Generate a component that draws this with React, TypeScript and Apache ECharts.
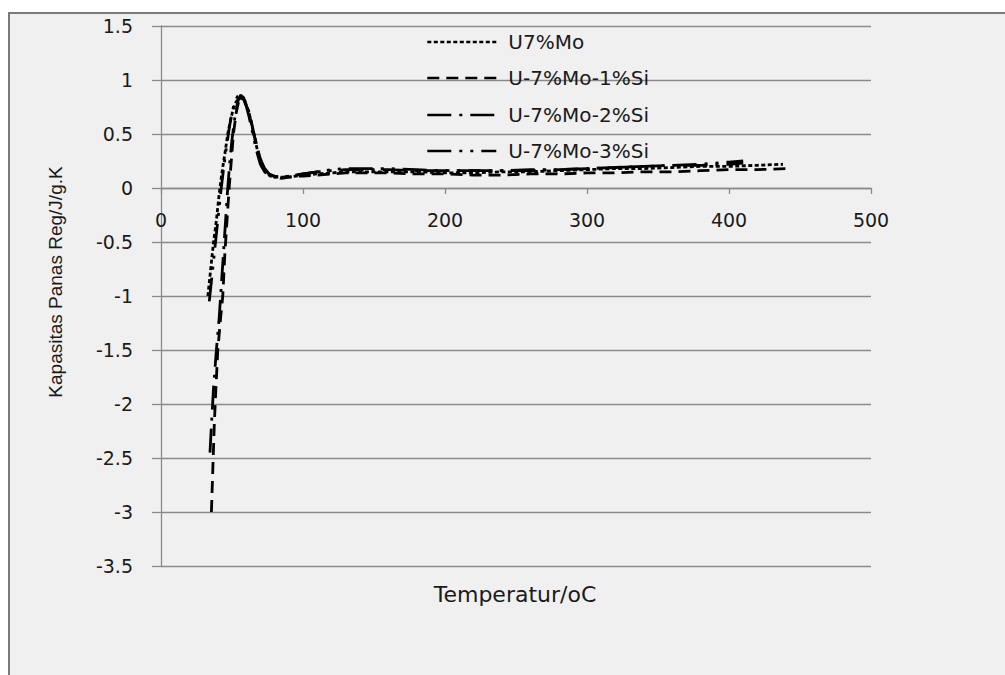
import React, { useEffect, useRef } from "react";
import * as echarts from "echarts";

// ---- data ----
const seriesNames = ["U7%Mo", "U-7%Mo-1%Si", "U-7%Mo-2%Si", "U-7%Mo-3%Si"];

const tempMo = [33, 35, 37, 39, 41, 43, 45, 47, 49, 51, 53, 55, 57, 59, 61, 63, 65, 67, 69, 71, 74, 77, 81, 85, 90, 95, 100, 110, 120, 130, 140, 150, 160, 180, 200, 220, 240, 260, 280, 300, 320, 340, 360, 380, 400, 420, 438];
const cpMo = [-1.0, -0.75, -0.5, -0.3, -0.05, 0.15, 0.32, 0.5, 0.63, 0.74, 0.8, 0.83, 0.83, 0.8, 0.74, 0.64, 0.52, 0.4, 0.29, 0.2, 0.14, 0.11, 0.1, 0.1, 0.1, 0.11, 0.12, 0.13, 0.14, 0.15, 0.15, 0.15, 0.15, 0.15, 0.14, 0.14, 0.15, 0.15, 0.16, 0.17, 0.18, 0.18, 0.19, 0.2, 0.2, 0.21, 0.22];

const tempSi1 = [35.5, 36.5, 37.5, 38.5, 40, 42, 43.5, 45, 46.5, 48, 49.5, 51, 53, 55, 56.5, 58, 60, 62, 64, 66, 68, 70, 73, 76, 80, 85, 90, 95, 100, 110, 120, 130, 140, 150, 160, 180, 200, 220, 240, 260, 280, 300, 320, 340, 360, 380, 400, 420, 440];
const cpSi1 = [-3.0, -2.6, -2.2, -1.9, -1.5, -1.2, -1.0, -0.6, -0.3, 0.0, 0.25, 0.5, 0.7, 0.82, 0.85, 0.83, 0.77, 0.69, 0.58, 0.47, 0.36, 0.27, 0.18, 0.13, 0.1, 0.09, 0.1, 0.11, 0.11, 0.12, 0.13, 0.14, 0.14, 0.14, 0.14, 0.13, 0.13, 0.12, 0.12, 0.13, 0.13, 0.14, 0.14, 0.15, 0.15, 0.16, 0.17, 0.17, 0.18];

const tempSi2 = [34.5, 35.5, 37, 39, 41, 42.5, 44, 45.5, 47, 48.5, 50, 52, 54, 56, 58, 60, 62, 64, 66, 68, 70, 73, 76, 80, 85, 90, 95, 100, 110, 120, 130, 140, 150, 160, 180, 200, 220, 240, 260, 280, 300, 320, 340, 360, 380, 400, 410];
const cpSi2 = [-2.45, -2.2, -1.85, -1.5, -1.2, -0.9, -0.6, -0.3, 0.0, 0.25, 0.45, 0.65, 0.8, 0.86, 0.84, 0.78, 0.7, 0.59, 0.47, 0.36, 0.27, 0.18, 0.13, 0.11, 0.1, 0.11, 0.12, 0.13, 0.15, 0.16, 0.17, 0.17, 0.17, 0.17, 0.16, 0.16, 0.16, 0.16, 0.16, 0.17, 0.18, 0.19, 0.2, 0.21, 0.21, 0.22, 0.23];

const tempSi3 = [34, 36, 38, 40, 42, 44, 46, 48, 50, 52, 54, 56, 58, 60, 62, 64, 66, 68, 70, 73, 76, 80, 85, 90, 95, 100, 110, 120, 130, 140, 150, 160, 180, 200, 220, 240, 260, 280, 300, 320, 340, 360, 380, 400, 410];
const cpSi3 = [-1.05, -0.8, -0.55, -0.3, -0.05, 0.17, 0.37, 0.55, 0.7, 0.8, 0.85, 0.86, 0.83, 0.76, 0.66, 0.54, 0.42, 0.31, 0.22, 0.15, 0.12, 0.1, 0.1, 0.11, 0.12, 0.13, 0.15, 0.17, 0.18, 0.18, 0.18, 0.18, 0.17, 0.16, 0.16, 0.16, 0.17, 0.17, 0.18, 0.19, 0.2, 0.21, 0.22, 0.24, 0.25];

const xTitle = "Temperatur/oC";
const yTitle = "Kapasitas Panas Reg/J/g.K";

const temps = [tempMo, tempSi1, tempSi2, tempSi3];
const cps = [cpMo, cpSi1, cpSi2, cpSi3];
const dashes: number[][] = [
  [4, 2.5],
  [12, 7],
  [24, 8, 3, 8],
  [24, 8, 3, 8, 3, 8],
];
const legendTops = [27, 63, 100, 136];

const AX = "#8a8a8a";
const TXT = "#1a1a1a";
const FONT = "DejaVu Sans";

// x axis sits at y = 0: grid bottom is at -3.5, so shift it up by 3.5 units (108 px per unit)
const X_AXIS_OFFSET = -378;

export default function App() {
  const ref = useRef<HTMLDivElement>(null);

  useEffect(() => {
    if (!ref.current) return;
    const chart = echarts.init(ref.current, undefined, { renderer: "svg" });

    const series = seriesNames.map((name, i) => ({
      name,
      type: "line",
      data: temps[i].map((t, j) => [t, cps[i][j]]),
      symbol: "none",
      showSymbol: false,
      smooth: false,
      lineStyle: { color: "#000", width: 2.8, type: dashes[i] },
      itemStyle: { color: "#000" },
      z: 5,
    }));

    const legends = seriesNames.map((name, i) => ({
      data: [name],
      left: 421,
      top: legendTops[i],
      orient: "vertical",
      itemWidth: 69,
      itemHeight: 20,
      selectedMode: false,
      itemStyle: { color: "rgba(0,0,0,0)", borderColor: "rgba(0,0,0,0)", borderWidth: 0, opacity: 0 },
      lineStyle: { color: "#000", width: 2.6 },
      textStyle: {
        fontFamily: FONT,
        fontSize: 20,
        color: TXT,
        padding: [0, 0, 0, 7],
      },
    }));

    chart.setOption({
      animation: false,
      backgroundColor: "#ffffff",
      graphic: [
        {
          type: "rect",
          z: -10,
          shape: { x: 9, y: 13, width: 1010, height: 680 },
          style: { fill: "#f0f0f0", stroke: "#7a7a7a", lineWidth: 2 },
        },
        {
          type: "text",
          x: 515,
          y: 594,
          style: {
            text: xTitle,
            fontFamily: FONT,
            fontSize: 22,
            fill: TXT,
            textAlign: "center",
            textVerticalAlign: "middle",
            align: "center",
            verticalAlign: "middle",
          },
        },
        {
          type: "text",
          x: 55,
          y: 282,
          rotation: Math.PI / 2,
          style: {
            text: yTitle,
            fontFamily: "Liberation Sans",
            fontSize: 19,
            fill: TXT,
            textAlign: "center",
            textVerticalAlign: "middle",
            align: "center",
            verticalAlign: "middle",
          },
        },
      ],
      legend: legends,
      grid: { left: 161, right: 134, top: 26, bottom: 109, containLabel: false },
      xAxis: {
        type: "value",
        min: 0,
        max: 500,
        interval: 100,
        position: "bottom",
        offset: X_AXIS_OFFSET,
        axisLine: { show: true, onZero: false, lineStyle: { color: AX, width: 1.3 } },
        axisTick: { show: true, inside: false, length: 6, lineStyle: { color: AX, width: 1.3 } },
        axisLabel: { fontFamily: FONT, fontSize: 19, color: TXT, margin: 22 },
        splitLine: { show: false },
      },
      yAxis: {
        type: "value",
        min: -3.5,
        max: 1.5,
        interval: 0.5,
        axisLine: { show: true, onZero: false, lineStyle: { color: AX, width: 1.3 } },
        axisTick: { show: true, inside: false, length: 9, lineStyle: { color: AX, width: 1.3 } },
        axisLabel: { fontFamily: FONT, fontSize: 19, color: TXT, margin: 28 },
        splitLine: { show: true, lineStyle: { color: AX, width: 1.3 } },
      },
      series,
    });

    return () => chart.dispose();
  }, []);

  return (
    <div
      ref={ref}
      style={{ position: "absolute", left: 0, top: 0, width: 1005, height: 675 }}
    />
  );
}
